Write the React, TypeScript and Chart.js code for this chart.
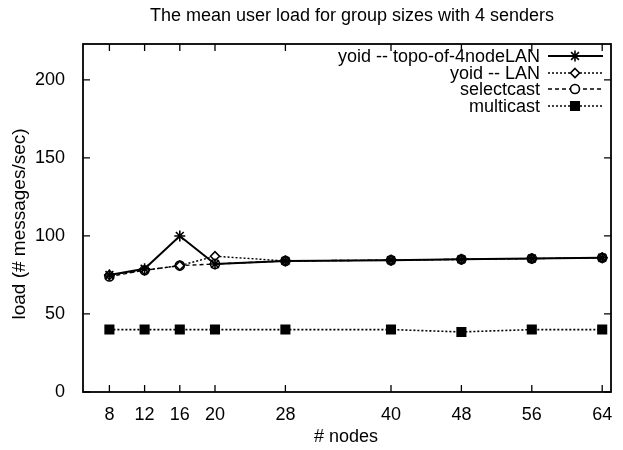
import React, { useEffect, useRef } from "react";
import { Chart, registerables } from "chart.js";

Chart.register(...registerables);

const nodes = [8, 12, 16, 20, 28, 40, 48, 56, 64];
const yoidTopo = [75, 79, 100, 82, 84, 84.5, 85, 85.5, 86];
const yoidLan = [75, 78, 81, 87, 84, 84.5, 85, 85.5, 86];
const selectcast = [74, 78, 81, 82, 84, 84.5, 85, 85.5, 86];
const multicast = [40, 40, 40, 40, 40, 40, 38.5, 40, 40];
const yTicks = [0, 50, 100, 150, 200];
const xTicks = nodes;

const FONT = "'Liberation Sans', Arial, Helvetica, sans-serif";

const seriesStyle = [
  { label: "yoid -- topo-of-4nodeLAN", data: yoidTopo, dash: [] as number[], width: 2, point: "star", r: 5.5, fill: "#000" },
  { label: "yoid -- LAN", data: yoidLan, dash: [2, 2], width: 1.4, point: "rectRot", r: 4.5, fill: "#fff" },
  { label: "selectcast", data: selectcast, dash: [4, 3], width: 1.4, point: "circle", r: 4.5, fill: "#fff" },
  { label: "multicast", data: multicast, dash: [2, 2], width: 1.6, point: "rect", r: 6, fill: "#000" },
];

function drawMarker(ctx: CanvasRenderingContext2D, style: string, r: number, x: number, y: number, fill: string) {
  ctx.fillStyle = fill;
  ctx.beginPath();
  if (style === "star") {
    ctx.moveTo(x, y - r); ctx.lineTo(x, y + r);
    const d = r * Math.SQRT1_2;
    ctx.moveTo(x - d, y - d); ctx.lineTo(x + d, y + d);
    ctx.moveTo(x - d, y + d); ctx.lineTo(x + d, y - d);
    ctx.moveTo(x - r, y); ctx.lineTo(x + r, y);
    ctx.stroke();
  } else if (style === "rectRot") {
    ctx.moveTo(x, y - r); ctx.lineTo(x + r, y); ctx.lineTo(x, y + r); ctx.lineTo(x - r, y); ctx.closePath();
    ctx.fill(); ctx.stroke();
  } else if (style === "circle") {
    ctx.arc(x, y, r, 0, Math.PI * 2);
    ctx.fill(); ctx.stroke();
  } else {
    const s = r * Math.SQRT1_2;
    ctx.rect(x - s, y - s, 2 * s, 2 * s);
    ctx.fill(); ctx.stroke();
  }
}

const framePlugin = {
  id: "frame",
  afterDraw(chart: any) {
    const { ctx, chartArea: a, scales } = chart;
    ctx.save();
    ctx.strokeStyle = "#000";
    ctx.lineWidth = 1.8;
    ctx.strokeRect(a.left, a.top, a.right - a.left, a.bottom - a.top);
    ctx.lineWidth = 1.3;
    const tl = 7;
    xTicks.forEach((v) => {
      const x = scales.x.getPixelForValue(v);
      ctx.beginPath();
      ctx.moveTo(x, a.bottom);
      ctx.lineTo(x, a.bottom - tl);
      ctx.moveTo(x, a.top);
      ctx.lineTo(x, a.top + tl);
      ctx.stroke();
    });
    yTicks.forEach((v) => {
      const y = scales.y.getPixelForValue(v);
      ctx.beginPath();
      ctx.moveTo(a.left, y);
      ctx.lineTo(a.left + tl, y);
      ctx.moveTo(a.right, y);
      ctx.lineTo(a.right - tl, y);
      ctx.stroke();
    });
    ctx.fillStyle = "#000";
    ctx.textAlign = "center";
    ctx.textBaseline = "middle";
    ctx.font = `18px ${FONT}`;
    ctx.fillText("The mean user load for group sizes with 4 senders", 352, 16);
    ctx.fillText("# nodes", 346, 437);
    ctx.save();
    ctx.font = `19px ${FONT}`;
    ctx.translate(20, 224);
    ctx.rotate(-Math.PI / 2);
    ctx.fillText("load (# messages/sec)", 0, 0);
    ctx.restore();
    const rows = [56, 73, 89, 106];
    seriesStyle.forEach((s, i) => {
      const y = rows[i];
      ctx.textAlign = "right";
      ctx.fillStyle = "#000";
      ctx.fillText(s.label, 540, y + 1);
      ctx.save();
      ctx.setLineDash(s.dash);
      ctx.lineWidth = s.width;
      ctx.beginPath();
      ctx.moveTo(548, y);
      ctx.lineTo(603, y);
      ctx.stroke();
      ctx.restore();
      ctx.save();
      ctx.strokeStyle = "#000";
      ctx.lineWidth = 1.6;
      drawMarker(ctx, s.point, s.r, 575, y, s.fill);
      ctx.restore();
    });
    ctx.restore();
  },
};

export default function App() {
  const ref = useRef<HTMLCanvasElement>(null);
  useEffect(() => {
    document.body.style.margin = "0";
    const chart = new Chart(ref.current!, {
      type: "line",
      data: {
        datasets: seriesStyle.map((s) => ({
          label: s.label,
          data: nodes.map((n, i) => ({ x: n, y: s.data[i] })),
          borderColor: "#000",
          borderWidth: s.width,
          borderDash: s.dash,
          pointStyle: s.point as any,
          pointRadius: s.r,
          pointBackgroundColor: s.fill,
          pointBorderColor: "#000",
          pointBorderWidth: 1.6,
          tension: 0,
          fill: false,
        })),
      },
      options: {
        animation: false,
        responsive: false,
        events: [],
        layout: { padding: { left: 0, right: 12, top: 44, bottom: 0 } },
        plugins: { legend: { display: false }, title: { display: false }, tooltip: { enabled: false } },
        scales: {
          x: {
            type: "linear",
            min: 5,
            max: 65,
            grid: { display: false },
            border: { display: false },
            afterBuildTicks: (scale: any) => { scale.ticks = xTicks.map((v) => ({ value: v })); },
            afterFit: (scale: any) => { scale.height = 58; },
            ticks: { color: "#000", font: { family: FONT, size: 18 }, padding: 4, autoSkip: false, maxRotation: 0, callback: (v: any) => String(v) },
          },
          y: {
            type: "linear",
            min: 0,
            max: 223,
            grid: { display: false },
            border: { display: false },
            afterBuildTicks: (scale: any) => { scale.ticks = yTicks.map((v) => ({ value: v })); },
            afterFit: (scale: any) => { scale.width = 83; },
            ticks: { color: "#000", font: { family: FONT, size: 18 }, padding: 10, callback: (v: any) => String(v) },
          },
        },
      },
      plugins: [framePlugin],
    });
    return () => chart.destroy();
  }, []);
  return (
    <div style={{ width: 623, height: 450, background: "#fff" }}>
      <canvas ref={ref} width={623} height={450} />
    </div>
  );
}
